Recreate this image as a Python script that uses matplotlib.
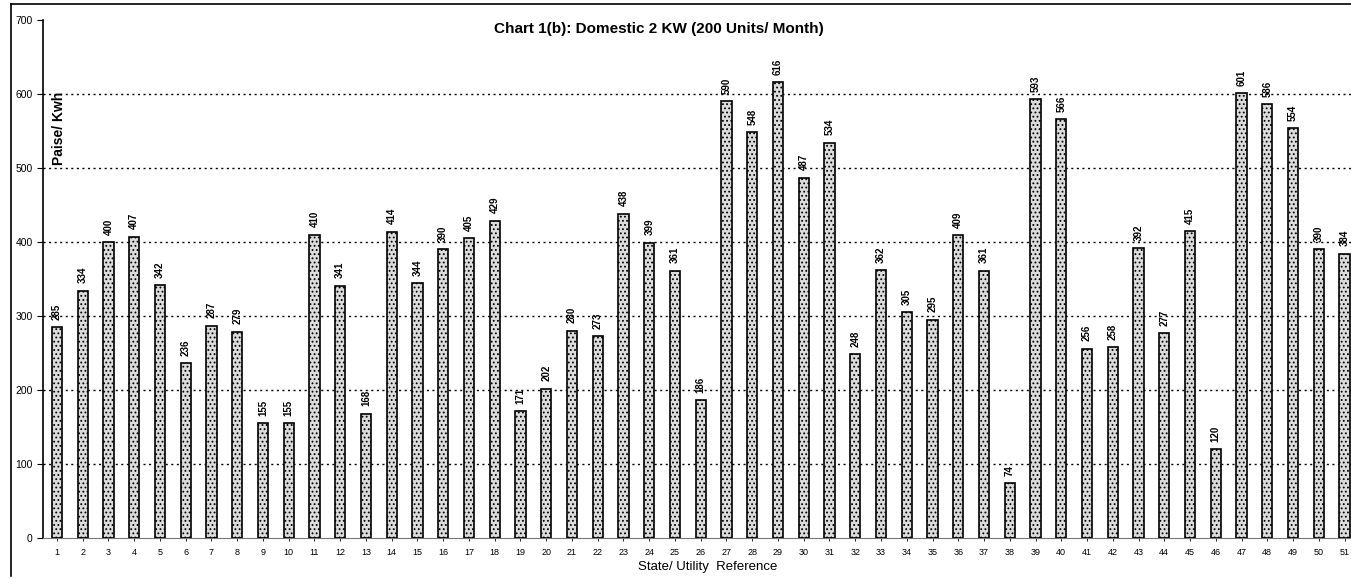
import matplotlib.pyplot as plt
from matplotlib.lines import Line2D

# state / utility reference numbers and tariff (paise per kwh)
refs = list(range(1, 52))
tariff = [285, 334, 400, 407, 342, 236, 287, 279, 155, 155,
          410, 341, 168, 414, 344, 390, 405, 429, 171, 202,
          280, 273, 438, 399, 361, 186, 590, 548, 616, 487,
          534, 248, 362, 305, 295, 409, 361, 74, 593, 566,
          256, 258, 392, 277, 415, 120, 601, 586, 554, 390,
          384]
yticks = [0, 100, 200, 300, 400, 500, 600, 700]

plt.rcParams['font.family'] = ['Liberation Sans', 'DejaVu Sans']
plt.rcParams['hatch.color'] = '#a8a8a8'
plt.rcParams['hatch.linewidth'] = 0.8

fig = plt.figure(figsize=(13.51, 5.79), dpi=100)
ax = fig.add_axes([43 / 1351, 1 - 538 / 579, 1 - 43 / 1351, 518 / 579])

ax.bar(refs, tariff, width=0.4, color='#dcdcdc', edgecolor='black',
       linewidth=1.2, hatch='....', zorder=3)

for x, v in zip(refs, tariff):
    ax.text(x, v + 10, str(v), rotation=90, ha='center', va='bottom',
            fontsize=7, fontweight='bold', zorder=4)

# dotted grid
for y in yticks[1:-1]:
    ax.axhline(y, color='black', linestyle=(0, (1.5, 2.5)), linewidth=1.0, zorder=1)

ax.set_ylim(0, 700)
ax.set_xlim(0.46, 51.25)
ax.set_yticks(yticks)
ax.set_xticks(refs)
ax.tick_params(axis='y', labelsize=7.5, length=4, width=0.8)
ax.tick_params(axis='x', labelsize=6.5, length=2, width=0.6, pad=5)
ax.spines['top'].set_visible(False)
ax.spines['right'].set_visible(False)
ax.spines['left'].set_linewidth(1.2)
ax.spines['bottom'].set_color('#777777')

ax.set_xlabel('State/ Utility  Reference', fontsize=9.5)
ax.xaxis.set_label_coords(0.508, -0.045)
ax.text(0.012, 0.79, 'Paise/ Kwh', transform=ax.transAxes, rotation=90,
        ha='center', va='center', fontsize=10, fontweight='bold')
fig.text(0.488, 0.95, 'Chart 1(b): Domestic 2 KW (200 Units/ Month)',
         ha='center', va='center', fontsize=11, fontweight='bold')

# scanned page frame (left and top edges only)
fig.add_artist(Line2D([11 / 1351, 11 / 1351], [0.005, 0.993], transform=fig.transFigure,
                      color='black', linewidth=1.2))
fig.add_artist(Line2D([11 / 1351, 1.0], [0.993, 0.993], transform=fig.transFigure,
                      color='black', linewidth=1.2))

fig.savefig('out.png', dpi=100)
